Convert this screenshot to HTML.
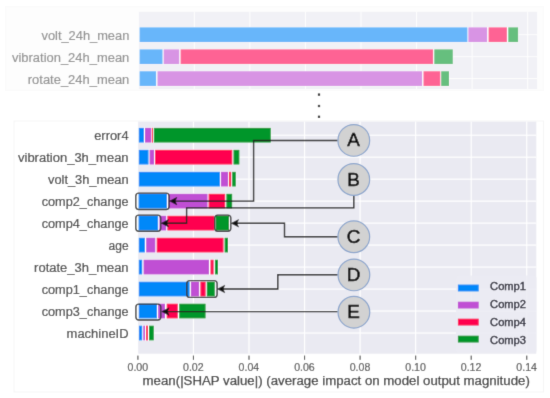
<!DOCTYPE html>
<html><head><meta charset="utf-8"><style>
html,body{margin:0;padding:0;background:#fff;width:550px;height:398px;overflow:hidden}
svg{display:block}
text{font-family:"Liberation Sans",sans-serif}
</style></head><body>
<svg width="550" height="398" viewBox="0 0 550 398" font-family="Liberation Sans, sans-serif">
<defs><filter id="bl" x="0" y="0" width="550" height="398" filterUnits="userSpaceOnUse"><feConvolveMatrix order="3" kernelMatrix="0.0115 0.0841 0.0115 0.0841 0.6176 0.0841 0.0115 0.0841 0.0115" divisor="1" edgeMode="duplicate" preserveAlpha="true"/></filter></defs>
<g filter="url(#bl)">
<rect width="550" height="398" fill="#fff"/>
<rect x="5.5" y="6.5" width="538" height="84" fill="#fdfdfd" stroke="#fafafa" stroke-width="1"/>
<rect x="14" y="121" width="529.5" height="271" fill="#fff" stroke="#f5f5f5" stroke-width="1"/>
<g opacity="0.6">
<rect x="139" y="11.8" width="398" height="77.3" fill="#eaeaf2"/>
<rect x="193.85" y="11.8" width="1.0" height="77.3" fill="#fff"/>
<rect x="249.40" y="11.8" width="1.0" height="77.3" fill="#fff"/>
<rect x="304.95" y="11.8" width="1.0" height="77.3" fill="#fff"/>
<rect x="360.50" y="11.8" width="1.0" height="77.3" fill="#fff"/>
<rect x="416.05" y="11.8" width="1.0" height="77.3" fill="#fff"/>
<rect x="471.60" y="11.8" width="1.0" height="77.3" fill="#fff"/>
<rect x="527.15" y="11.8" width="1.0" height="77.3" fill="#fff"/>
<rect x="139" y="34.20" width="398" height="1.0" fill="#fff"/>
<rect x="139" y="56.20" width="398" height="1.0" fill="#fff"/>
<rect x="139" y="78.10" width="398" height="1.0" fill="#fff"/>
<rect x="139.20" y="27.00" width="379.30" height="15.4" fill="#fff"/>
<rect x="139.60" y="27.35" width="327.80" height="14.7" fill="#0588f9"/>
<rect x="468.40" y="27.35" width="18.70" height="14.7" fill="#c050d4"/>
<rect x="488.60" y="27.35" width="18.30" height="14.7" fill="#ff0050"/>
<rect x="508.30" y="27.35" width="9.80" height="14.7" fill="#03962a"/>
<rect x="139.20" y="49.00" width="314.00" height="15.4" fill="#fff"/>
<rect x="139.60" y="49.35" width="22.90" height="14.7" fill="#0588f9"/>
<rect x="163.70" y="49.35" width="15.50" height="14.7" fill="#c050d4"/>
<rect x="180.60" y="49.35" width="252.50" height="14.7" fill="#ff0050"/>
<rect x="434.30" y="49.35" width="18.50" height="14.7" fill="#03962a"/>
<rect x="139.20" y="70.90" width="310.20" height="15.4" fill="#fff"/>
<rect x="139.60" y="71.25" width="16.50" height="14.7" fill="#0588f9"/>
<rect x="157.50" y="71.25" width="264.60" height="14.7" fill="#c050d4"/>
<rect x="423.50" y="71.25" width="16.80" height="14.7" fill="#ff0050"/>
<rect x="441.20" y="71.25" width="7.80" height="14.7" fill="#03962a"/>
<text x="41.50" y="40.30" textLength="87.80" lengthAdjust="spacingAndGlyphs" font-size="12.6" fill="#4a4a4a" stroke="#4a4a4a" stroke-width="0.2">volt_24h_mean</text>
<text x="12.00" y="62.30" textLength="117.30" lengthAdjust="spacingAndGlyphs" font-size="12.6" fill="#4a4a4a" stroke="#4a4a4a" stroke-width="0.2">vibration_24h_mean</text>
<text x="27.80" y="84.20" textLength="101.50" lengthAdjust="spacingAndGlyphs" font-size="12.6" fill="#4a4a4a" stroke="#4a4a4a" stroke-width="0.2">rotate_24h_mean</text>
</g>
<rect x="138.2" y="121.6" width="398.1" height="232.1" fill="#eaeaf2"/>
<rect x="192.85" y="121.6" width="1.2" height="232.1" fill="#fff"/>
<rect x="248.40" y="121.6" width="1.2" height="232.1" fill="#fff"/>
<rect x="303.95" y="121.6" width="1.2" height="232.1" fill="#fff"/>
<rect x="359.50" y="121.6" width="1.2" height="232.1" fill="#fff"/>
<rect x="415.05" y="121.6" width="1.2" height="232.1" fill="#fff"/>
<rect x="470.60" y="121.6" width="1.2" height="232.1" fill="#fff"/>
<rect x="526.15" y="121.6" width="1.2" height="232.1" fill="#fff"/>
<rect x="138.2" y="134.60" width="398.1" height="1.2" fill="#fff"/>
<rect x="138.2" y="156.58" width="398.1" height="1.2" fill="#fff"/>
<rect x="138.2" y="178.56" width="398.1" height="1.2" fill="#fff"/>
<rect x="138.2" y="200.54" width="398.1" height="1.2" fill="#fff"/>
<rect x="138.2" y="222.52" width="398.1" height="1.2" fill="#fff"/>
<rect x="138.2" y="244.50" width="398.1" height="1.2" fill="#fff"/>
<rect x="138.2" y="266.48" width="398.1" height="1.2" fill="#fff"/>
<rect x="138.2" y="288.46" width="398.1" height="1.2" fill="#fff"/>
<rect x="138.2" y="310.44" width="398.1" height="1.2" fill="#fff"/>
<rect x="138.2" y="332.42" width="398.1" height="1.2" fill="#fff"/>
<rect x="138.40" y="127.50" width="132.80" height="15.4" fill="#fff"/>
<rect x="138.80" y="127.85" width="5.10" height="14.7" fill="#0588f9"/>
<rect x="145.00" y="127.85" width="6.10" height="14.7" fill="#c050d4"/>
<rect x="151.80" y="127.85" width="1.20" height="14.7" fill="#ff0050"/>
<rect x="153.80" y="127.85" width="117.00" height="14.7" fill="#03962a"/>
<rect x="138.40" y="149.48" width="101.40" height="15.4" fill="#fff"/>
<rect x="138.80" y="149.83" width="9.70" height="14.7" fill="#0588f9"/>
<rect x="149.60" y="149.83" width="4.50" height="14.7" fill="#c050d4"/>
<rect x="155.10" y="149.83" width="77.20" height="14.7" fill="#ff0050"/>
<rect x="233.50" y="149.83" width="5.90" height="14.7" fill="#03962a"/>
<rect x="138.40" y="171.46" width="97.80" height="15.4" fill="#fff"/>
<rect x="138.80" y="171.81" width="81.10" height="14.7" fill="#0588f9"/>
<rect x="220.90" y="171.81" width="7.10" height="14.7" fill="#c050d4"/>
<rect x="228.90" y="171.81" width="2.30" height="14.7" fill="#ff0050"/>
<rect x="232.20" y="171.81" width="3.60" height="14.7" fill="#03962a"/>
<rect x="138.20" y="193.44" width="94.40" height="15.4" fill="#fff"/>
<rect x="138.60" y="193.79" width="28.30" height="14.7" fill="#0588f9"/>
<rect x="168.30" y="193.79" width="39.20" height="14.7" fill="#c050d4"/>
<rect x="208.60" y="193.79" width="16.60" height="14.7" fill="#ff0050"/>
<rect x="226.40" y="193.79" width="5.80" height="14.7" fill="#03962a"/>
<rect x="138.20" y="215.42" width="91.20" height="15.4" fill="#fff"/>
<rect x="138.60" y="215.77" width="19.50" height="14.7" fill="#0588f9"/>
<rect x="159.40" y="215.77" width="6.80" height="14.7" fill="#c050d4"/>
<rect x="167.40" y="215.77" width="46.60" height="14.7" fill="#ff0050"/>
<rect x="215.60" y="215.77" width="13.40" height="14.7" fill="#03962a"/>
<rect x="138.40" y="237.40" width="90.00" height="15.4" fill="#fff"/>
<rect x="138.80" y="237.75" width="6.10" height="14.7" fill="#0588f9"/>
<rect x="146.20" y="237.75" width="9.10" height="14.7" fill="#c050d4"/>
<rect x="156.70" y="237.75" width="66.80" height="14.7" fill="#ff0050"/>
<rect x="224.60" y="237.75" width="3.40" height="14.7" fill="#03962a"/>
<rect x="138.40" y="259.38" width="80.00" height="15.4" fill="#fff"/>
<rect x="138.80" y="259.73" width="3.40" height="14.7" fill="#0588f9"/>
<rect x="143.60" y="259.73" width="65.40" height="14.7" fill="#c050d4"/>
<rect x="210.50" y="259.73" width="3.10" height="14.7" fill="#ff0050"/>
<rect x="214.90" y="259.73" width="3.10" height="14.7" fill="#03962a"/>
<rect x="138.40" y="281.36" width="76.80" height="15.4" fill="#fff"/>
<rect x="138.80" y="281.71" width="50.80" height="14.7" fill="#0588f9"/>
<rect x="190.90" y="281.71" width="8.20" height="14.7" fill="#c050d4"/>
<rect x="200.40" y="281.71" width="5.20" height="14.7" fill="#ff0050"/>
<rect x="206.80" y="281.71" width="8.00" height="14.7" fill="#03962a"/>
<rect x="138.40" y="303.34" width="67.60" height="15.4" fill="#fff"/>
<rect x="138.80" y="303.69" width="18.20" height="14.7" fill="#0588f9"/>
<rect x="158.10" y="303.69" width="6.90" height="14.7" fill="#c050d4"/>
<rect x="166.70" y="303.69" width="11.10" height="14.7" fill="#ff0050"/>
<rect x="179.20" y="303.69" width="26.40" height="14.7" fill="#03962a"/>
<rect x="138.50" y="325.32" width="15.70" height="15.4" fill="#fff"/>
<rect x="138.90" y="325.67" width="3.30" height="14.7" fill="#0588f9"/>
<rect x="143.30" y="325.67" width="1.70" height="14.7" fill="#c050d4"/>
<rect x="146.00" y="325.67" width="2.00" height="14.7" fill="#ff0050"/>
<rect x="149.00" y="325.67" width="4.80" height="14.7" fill="#03962a"/>
<text x="94.20" y="139.80" textLength="34.40" lengthAdjust="spacingAndGlyphs" font-size="12.5" fill="#444" stroke="#444" stroke-width="0.2">error4</text>
<text x="18.00" y="161.78" textLength="110.60" lengthAdjust="spacingAndGlyphs" font-size="12.5" fill="#444" stroke="#444" stroke-width="0.2">vibration_3h_mean</text>
<text x="48.00" y="183.76" textLength="80.60" lengthAdjust="spacingAndGlyphs" font-size="12.5" fill="#444" stroke="#444" stroke-width="0.2">volt_3h_mean</text>
<text x="41.70" y="205.74" textLength="86.90" lengthAdjust="spacingAndGlyphs" font-size="12.5" fill="#444" stroke="#444" stroke-width="0.2">comp2_change</text>
<text x="41.70" y="227.72" textLength="86.90" lengthAdjust="spacingAndGlyphs" font-size="12.5" fill="#444" stroke="#444" stroke-width="0.2">comp4_change</text>
<text x="108.60" y="249.70" textLength="20.00" lengthAdjust="spacingAndGlyphs" font-size="12.5" fill="#444" stroke="#444" stroke-width="0.2">age</text>
<text x="34.10" y="271.68" textLength="94.50" lengthAdjust="spacingAndGlyphs" font-size="12.5" fill="#444" stroke="#444" stroke-width="0.2">rotate_3h_mean</text>
<text x="41.70" y="293.66" textLength="86.90" lengthAdjust="spacingAndGlyphs" font-size="12.5" fill="#444" stroke="#444" stroke-width="0.2">comp1_change</text>
<text x="41.70" y="315.64" textLength="86.90" lengthAdjust="spacingAndGlyphs" font-size="12.5" fill="#444" stroke="#444" stroke-width="0.2">comp3_change</text>
<text x="66.60" y="337.62" textLength="62.00" lengthAdjust="spacingAndGlyphs" font-size="12.5" fill="#444" stroke="#444" stroke-width="0.2">machineID</text>
<rect x="137.35" y="355.6" width="1.1" height="4.2" fill="#444"/>
<text x="127.50" y="370.6" textLength="20.6" lengthAdjust="spacingAndGlyphs" font-size="10" fill="#555" stroke="#555" stroke-width="0.2">0.00</text>
<rect x="192.90" y="355.6" width="1.1" height="4.2" fill="#444"/>
<text x="183.05" y="370.6" textLength="20.6" lengthAdjust="spacingAndGlyphs" font-size="10" fill="#555" stroke="#555" stroke-width="0.2">0.02</text>
<rect x="248.45" y="355.6" width="1.1" height="4.2" fill="#444"/>
<text x="238.60" y="370.6" textLength="20.6" lengthAdjust="spacingAndGlyphs" font-size="10" fill="#555" stroke="#555" stroke-width="0.2">0.04</text>
<rect x="304.00" y="355.6" width="1.1" height="4.2" fill="#444"/>
<text x="294.15" y="370.6" textLength="20.6" lengthAdjust="spacingAndGlyphs" font-size="10" fill="#555" stroke="#555" stroke-width="0.2">0.06</text>
<rect x="359.55" y="355.6" width="1.1" height="4.2" fill="#444"/>
<text x="349.70" y="370.6" textLength="20.6" lengthAdjust="spacingAndGlyphs" font-size="10" fill="#555" stroke="#555" stroke-width="0.2">0.08</text>
<rect x="415.10" y="355.6" width="1.1" height="4.2" fill="#444"/>
<text x="405.25" y="370.6" textLength="20.6" lengthAdjust="spacingAndGlyphs" font-size="10" fill="#555" stroke="#555" stroke-width="0.2">0.10</text>
<rect x="470.65" y="355.6" width="1.1" height="4.2" fill="#444"/>
<text x="460.80" y="370.6" textLength="20.6" lengthAdjust="spacingAndGlyphs" font-size="10" fill="#555" stroke="#555" stroke-width="0.2">0.12</text>
<rect x="526.20" y="355.6" width="1.1" height="4.2" fill="#444"/>
<text x="516.35" y="370.6" textLength="20.6" lengthAdjust="spacingAndGlyphs" font-size="10" fill="#555" stroke="#555" stroke-width="0.2">0.14</text>
<text x="142.6" y="384.6" textLength="387.2" lengthAdjust="spacingAndGlyphs" font-size="11.9" fill="#3a3a3a" stroke="#3a3a3a" stroke-width="0.25">mean(|SHAP value|) (average impact on model output magnitude)</text>
<rect x="456" y="275.5" width="80.5" height="77.5" rx="3" fill="#eaeaf2" opacity="0.88"/>
<rect x="457.9" y="284.60" width="20.8" height="6.8" fill="#0588f9"/>
<text x="490.1" y="290.30" textLength="35.9" lengthAdjust="spacingAndGlyphs" font-size="10.1" fill="#2b2b38" stroke="#2b2b38" stroke-width="0.38">Comp1</text>
<rect x="457.9" y="301.70" width="20.8" height="6.8" fill="#c050d4"/>
<text x="490.1" y="308.20" textLength="35.9" lengthAdjust="spacingAndGlyphs" font-size="10.1" fill="#2b2b38" stroke="#2b2b38" stroke-width="0.38">Comp2</text>
<rect x="457.9" y="318.70" width="20.8" height="6.8" fill="#ff0050"/>
<text x="490.1" y="326.10" textLength="35.9" lengthAdjust="spacingAndGlyphs" font-size="10.1" fill="#2b2b38" stroke="#2b2b38" stroke-width="0.38">Comp4</text>
<rect x="457.9" y="335.70" width="20.8" height="6.8" fill="#03962a"/>
<text x="490.1" y="344.00" textLength="35.9" lengthAdjust="spacingAndGlyphs" font-size="10.1" fill="#2b2b38" stroke="#2b2b38" stroke-width="0.38">Comp3</text>
<rect x="135.80" y="193.10" width="33.30" height="16.40" rx="3" ry="3" fill="none" stroke="#383838" stroke-width="1.4"/>
<rect x="135.80" y="215.10" width="24.90" height="16.20" rx="3" ry="3" fill="none" stroke="#383838" stroke-width="1.4"/>
<rect x="214.70" y="215.10" width="16.10" height="16.20" rx="3" ry="3" fill="none" stroke="#383838" stroke-width="1.4"/>
<rect x="186.80" y="280.60" width="30.30" height="16.80" rx="3" ry="3" fill="none" stroke="#383838" stroke-width="1.4"/>
<rect x="135.90" y="304.10" width="24.90" height="15.90" rx="3" ry="3" fill="none" stroke="#383838" stroke-width="1.4"/>
<path d="M337.6 140.5 H253.6 V201.1 H174" fill="none" stroke="#222" stroke-width="1.4"/>
<path d="M169.50 201.10 L176.90 197.30 L175.30 201.10 L176.90 204.90 Z" fill="#111" stroke="#111" stroke-width="0.4" stroke-linejoin="round"/>
<path d="M353.8 195.8 V207.9 H186.6 V223.2 H166" fill="none" stroke="#222" stroke-width="1.4"/>
<path d="M161.20 223.20 L168.60 219.40 L167.00 223.20 L168.60 227.00 Z" fill="#111" stroke="#111" stroke-width="0.4" stroke-linejoin="round"/>
<path d="M337.6 236.7 H284.5 V223.3 H236" fill="none" stroke="#222" stroke-width="1.4"/>
<path d="M231.20 223.30 L238.60 219.50 L237.00 223.30 L238.60 227.10 Z" fill="#111" stroke="#111" stroke-width="0.4" stroke-linejoin="round"/>
<path d="M337.6 274.7 H277.8 V289.0 H222" fill="none" stroke="#222" stroke-width="1.4"/>
<path d="M217.40 289.00 L224.80 285.20 L223.20 289.00 L224.80 292.80 Z" fill="#111" stroke="#111" stroke-width="0.4" stroke-linejoin="round"/>
<path d="M337.6 311.6 H166" fill="none" stroke="#222" stroke-width="1.4"/>
<path d="M161.70 311.60 L169.10 307.80 L167.50 311.60 L169.10 315.40 Z" fill="#111" stroke="#111" stroke-width="0.4" stroke-linejoin="round"/>
<circle cx="353.8" cy="140.4" r="15.85" fill="#d2d2d2" stroke="#8aa4cc" stroke-width="1.2"/>
<text x="353.50" y="146.40" text-anchor="middle" font-size="18.9" fill="#000" stroke="#000" stroke-width="0.5">A</text>
<circle cx="353.8" cy="179.5" r="15.85" fill="#d2d2d2" stroke="#8aa4cc" stroke-width="1.2"/>
<text x="353.50" y="185.50" text-anchor="middle" font-size="18.9" fill="#000" stroke="#000" stroke-width="0.5">B</text>
<circle cx="353.8" cy="236.8" r="15.85" fill="#d2d2d2" stroke="#8aa4cc" stroke-width="1.2"/>
<text x="353.50" y="242.80" text-anchor="middle" font-size="18.9" fill="#000" stroke="#000" stroke-width="0.5">C</text>
<circle cx="353.9" cy="274.9" r="15.85" fill="#d2d2d2" stroke="#8aa4cc" stroke-width="1.2"/>
<text x="353.60" y="280.90" text-anchor="middle" font-size="18.9" fill="#000" stroke="#000" stroke-width="0.5">D</text>
<circle cx="353.9" cy="312.2" r="15.85" fill="#d2d2d2" stroke="#8aa4cc" stroke-width="1.2"/>
<text x="353.60" y="318.20" text-anchor="middle" font-size="18.9" fill="#000" stroke="#000" stroke-width="0.5">E</text>
<rect x="317.9" y="93.50" width="2.2" height="2.2" fill="#000"/>
<rect x="317.9" y="104.90" width="2.2" height="2.2" fill="#000"/>
<rect x="317.9" y="115.70" width="2.2" height="2.2" fill="#000"/>
</g>
</svg>
</body></html>
